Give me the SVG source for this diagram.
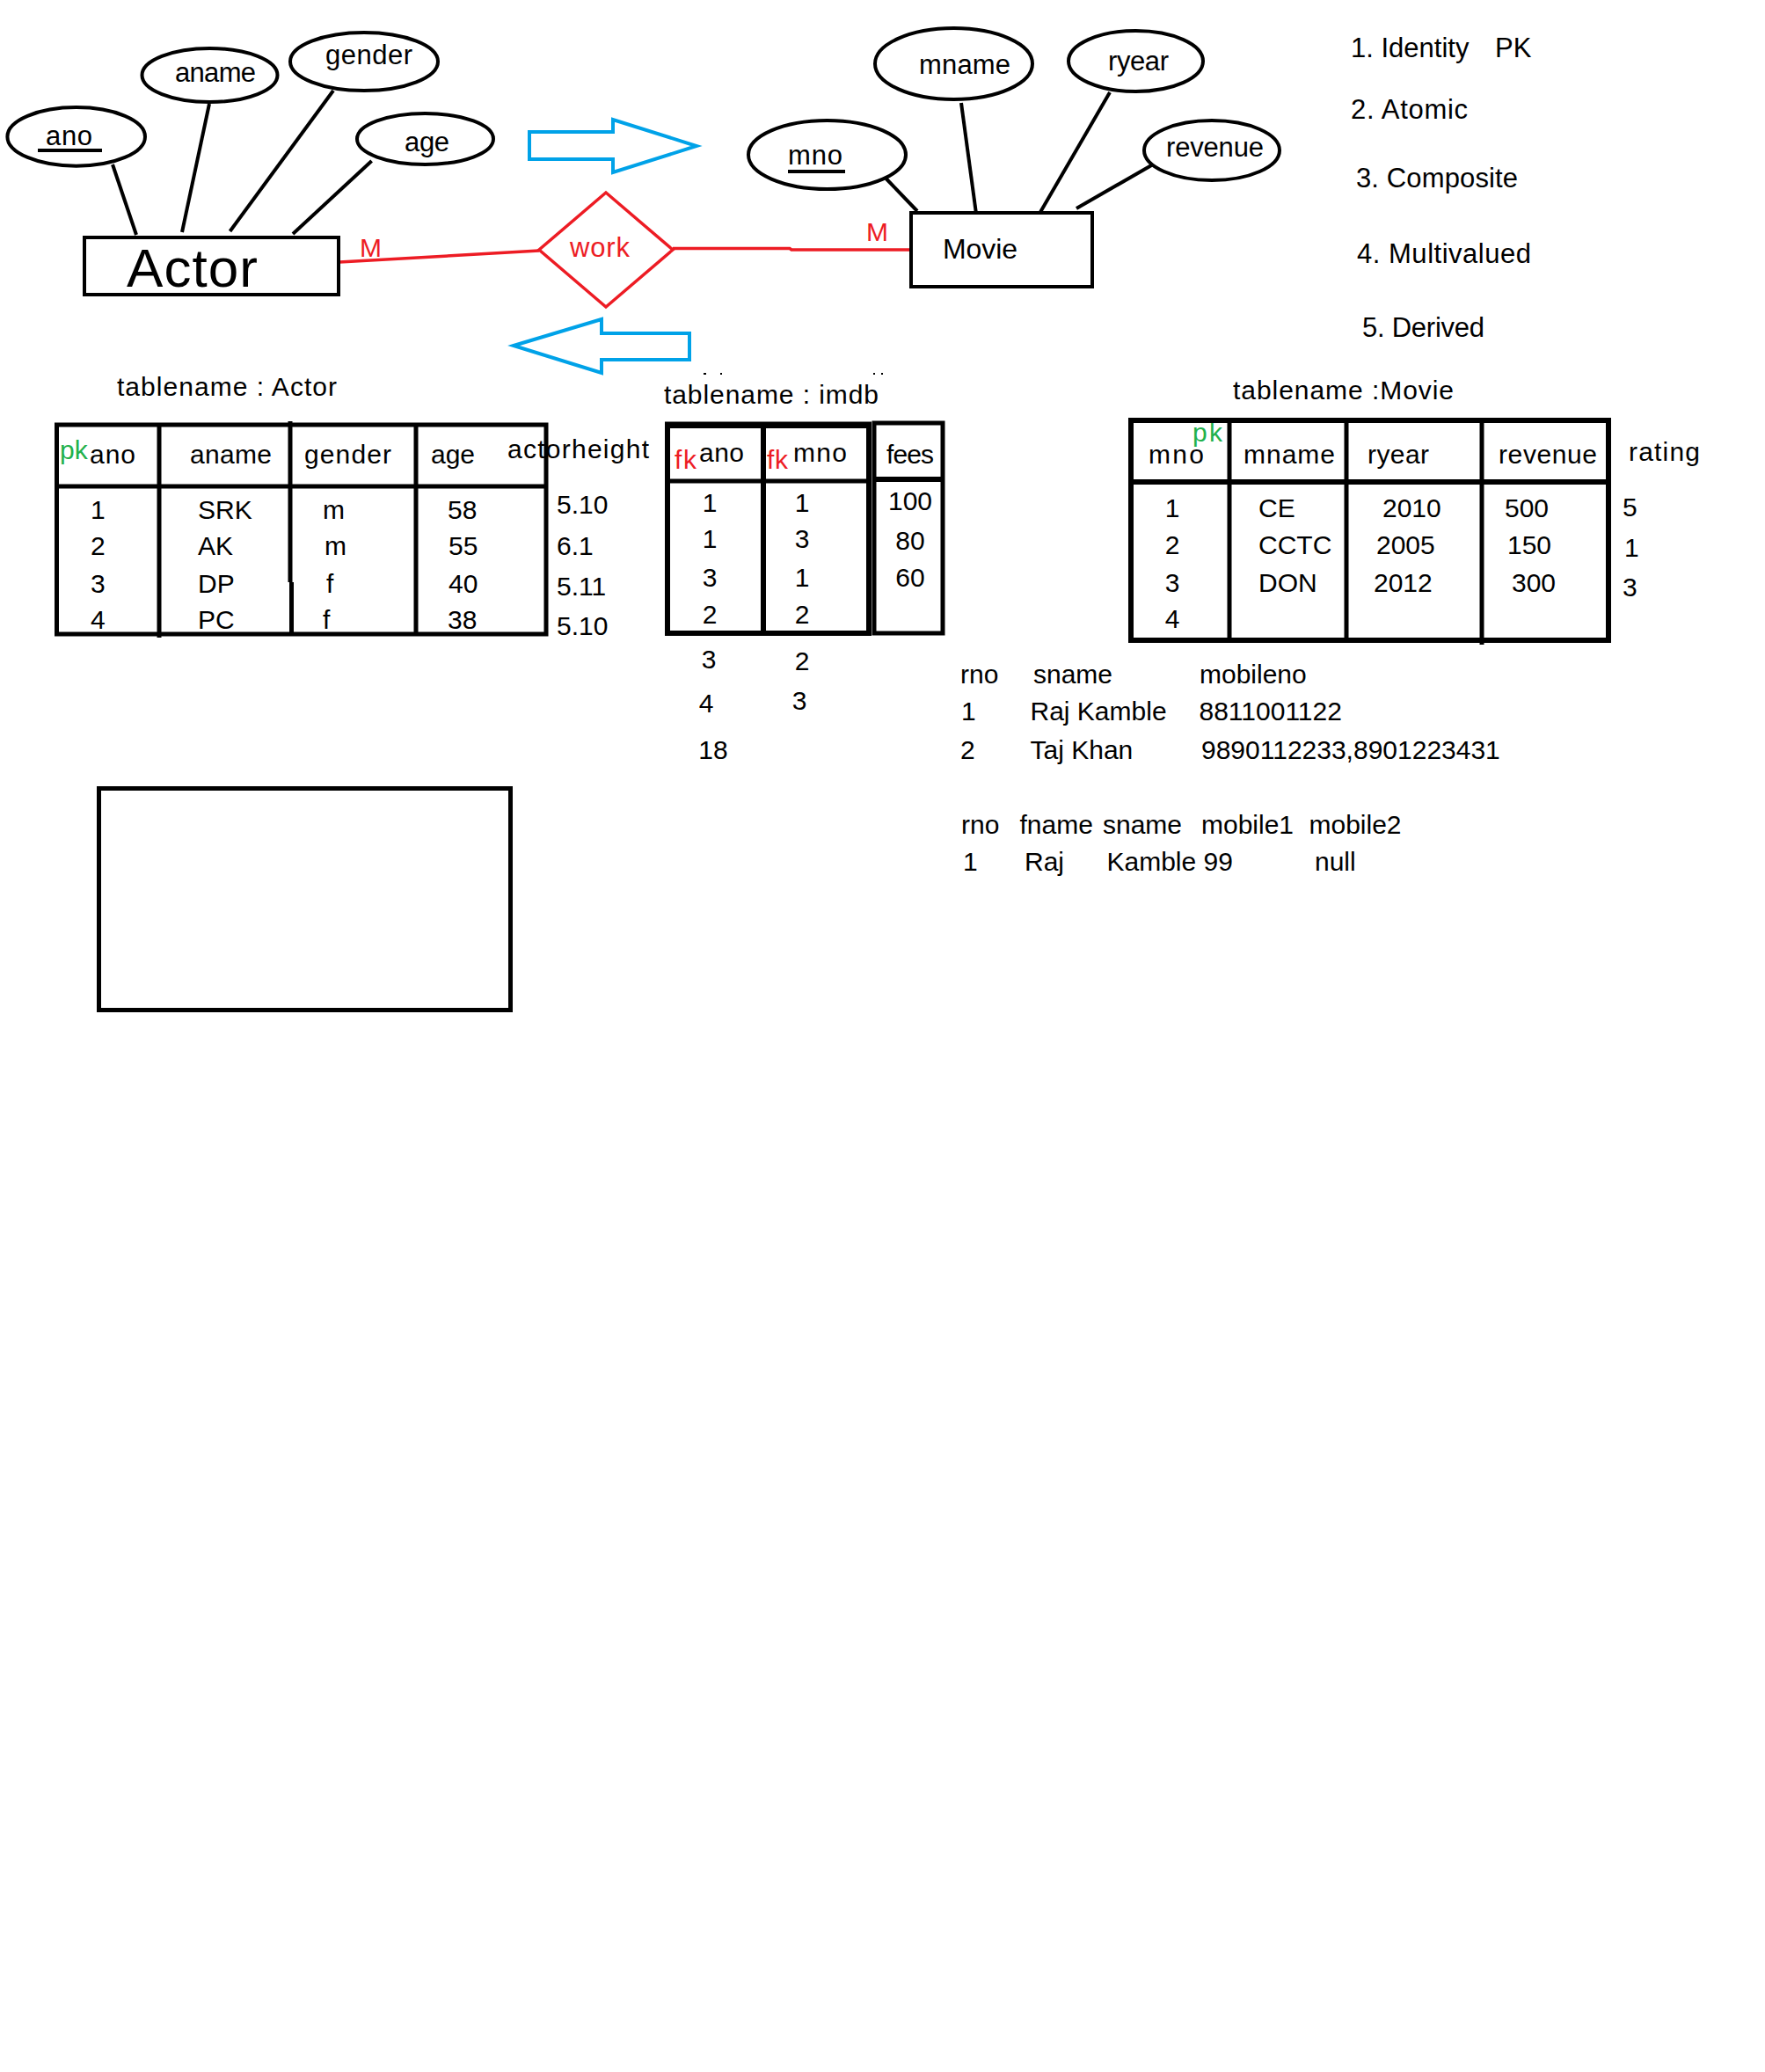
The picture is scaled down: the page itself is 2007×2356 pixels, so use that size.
<svg xmlns="http://www.w3.org/2000/svg" width="2007" height="2356" viewBox="0 0 2007 2356">
<style>
text{font-family:"Liberation Sans",Arial,sans-serif;font-size:30px;fill:#000}
.er{font-size:31px}
.big{font-size:62px}
.sm{font-size:30px}
.mv{font-size:32px}
.red{fill:#ED1C24}
.grn{fill:#22B14C}
.ell{fill:#fff;stroke:#000;stroke-width:4}
.box{fill:none;stroke:#000;stroke-width:4}
.tb{fill:none;stroke:#000;stroke-width:5}
.ln{stroke:#000;stroke-width:4;fill:none}
.rl{stroke:#ED1C24;stroke-width:3.5;fill:none}
.arr{fill:none;stroke:#00A2E8;stroke-width:4;stroke-linejoin:miter}
.mid{text-anchor:middle}
</style>
<rect width="2007" height="2356" fill="#fff"/>

<g id="connectors">
<line class="ln" x1="128" y1="187" x2="155" y2="267"/>
<line class="ln" x1="238" y1="118" x2="207" y2="264"/>
<line class="ln" x1="379" y1="103" x2="261.5" y2="263"/>
<line class="ln" x1="422.6" y1="183" x2="333" y2="266"/>
<line class="ln" x1="1007.5" y1="203" x2="1043" y2="240"/>
<line class="ln" x1="1093" y1="117" x2="1110" y2="243"/>
<line class="ln" x1="1262" y1="105" x2="1182.5" y2="242"/>
<line class="ln" x1="1318" y1="183" x2="1224" y2="237"/>
<line class="rl" x1="386" y1="298" x2="613" y2="285"/>
<polyline class="rl" points="765,282.5 898,282.5 900,284 1034,284"/>
<text class="red sm" x="409" y="292">M</text>
<text class="red sm" x="985" y="274">M</text>
</g>

<g id="attr-ano"><ellipse class="ell" cx="86.7" cy="155.4" rx="78.3" ry="33.3"/><text class="er" x="52" y="165" textLength="53">ano</text><line class="ln" x1="43" y1="171" x2="116" y2="171"/></g>
<g id="attr-aname"><ellipse class="ell" cx="238.5" cy="85.5" rx="77" ry="30.5"/><text class="er" x="199" y="93" textLength="92">aname</text></g>
<g id="attr-gender"><ellipse class="ell" cx="414" cy="70" rx="84" ry="33"/><text class="er" x="370" y="73" textLength="99">gender</text></g>
<g id="attr-age"><ellipse class="ell" cx="483.5" cy="158" rx="77.5" ry="29"/><text class="er" x="460" y="172" textLength="51">age</text></g>
<g id="entity-actor"><rect class="box" x="96" y="270" width="289" height="65"/><text class="big" x="144" y="326" textLength="149">Actor</text></g>
<g id="rel-work"><polygon points="689,219 765,284 689,349 613,284" fill="#fff" stroke="#ED1C24" stroke-width="3.5"/><text class="er red" x="648" y="292" textLength="68">work</text></g>

<g id="attr-mno"><ellipse class="ell" cx="940.5" cy="176" rx="89.5" ry="39"/><text class="er" x="896" y="187" textLength="62">mno</text><line class="ln" x1="896" y1="195" x2="961" y2="195"/></g>
<g id="attr-mname"><ellipse class="ell" cx="1084.5" cy="72.5" rx="89.5" ry="40.5"/><text class="er" x="1045" y="84" textLength="104">mname</text></g>
<g id="attr-ryear"><ellipse class="ell" cx="1291.5" cy="69.5" rx="76.5" ry="34.5"/><text class="er" x="1260" y="80" textLength="69">ryear</text></g>
<g id="attr-revenue"><ellipse class="ell" cx="1378" cy="171" rx="77" ry="34"/><text class="er" x="1326" y="178" textLength="111">revenue</text></g>
<g id="entity-movie"><rect class="box" x="1036" y="242" width="206" height="84"/><text class="mv" x="1072" y="294" textLength="85">Movie</text></g>

<g id="arrow-right"><path class="arr" d="M602 150 L697 150 L697 136 L792 166 L697 196 L697 181 L602 181 Z"/></g>
<g id="arrow-left"><path class="arr" d="M584 393 L684 363 L684 379 L784 379 L784 409 L684 409 L684 424 Z"/></g>

<g id="legend">
<text class="er" x="1536" y="65">1. Identity<tspan x="1700">PK</tspan></text>
<text class="er" x="1536" y="135" textLength="133">2. Atomic</text>
<text class="er" x="1542" y="213" textLength="184">3. Composite</text>
<text class="er" x="1543" y="299" textLength="198">4. Multivalued</text>
<text class="er" x="1549" y="383" textLength="139">5. Derived</text>
</g>

<g id="table-actor">
<text x="133" y="450" textLength="250">tablename : Actor</text>
<text class="grn sm" x="68" y="522">pk</text>
<text x="102" y="527" textLength="52">ano</text>
<text x="216" y="527" textLength="93">aname</text>
<text x="346" y="527" textLength="99">gender</text>
<text x="490" y="527" textLength="50">age</text>
<text x="577" y="521" textLength="161">actorheight</text>
<text x="103" y="590">1</text><text x="103" y="631">2</text><text x="103" y="674">3</text><text x="103" y="715">4</text>
<text x="225" y="590">SRK</text><text x="225" y="631">AK</text><text x="225" y="674">DP</text><text x="225" y="715">PC</text>
<text x="367" y="590">m</text><text x="369" y="631">m</text><text x="371" y="674">f</text><text x="367" y="715">f</text>
<text x="509" y="590">58</text><text x="510" y="631">55</text><text x="510" y="674">40</text><text x="509" y="715">38</text>
<text x="633" y="584">5.10</text><text x="633" y="631">6.1</text><text x="633" y="677">5.11</text><text x="633" y="722">5.10</text>
<rect class="tb" x="64.5" y="483" width="556.5" height="238"/>
<line class="tb" x1="64.5" y1="553" x2="621" y2="553"/>
<line class="tb" x1="181" y1="483" x2="181" y2="725"/>
<line class="tb" x1="330" y1="479" x2="330" y2="662"/>
<line class="tb" x1="331.5" y1="662" x2="331.5" y2="721"/>
<line class="tb" x1="473" y1="481" x2="473" y2="721"/>
</g>

<g id="table-imdb">
<rect x="800" y="424" width="3" height="2" fill="#000"/><rect x="819" y="424" width="2" height="2" fill="#000"/><rect x="993" y="424" width="2" height="2" fill="#000"/><rect x="1002" y="424" width="2" height="2" fill="#000"/>
<text x="755" y="459" textLength="244">tablename : imdb</text>
<text class="red" x="767" y="533" textLength="25">fk</text>
<text x="795" y="525" textLength="51">ano</text>
<text class="red" x="872" y="533" textLength="24">fk</text>
<text x="902" y="525" textLength="61">mno</text>
<text x="1008" y="527" textLength="54">fees</text>
<text class="mid" x="807" y="582">1</text><text class="mid" x="807" y="623">1</text><text class="mid" x="807" y="667">3</text><text class="mid" x="807" y="709">2</text>
<text class="mid" x="912" y="582">1</text><text class="mid" x="912" y="623">3</text><text class="mid" x="912" y="667">1</text><text class="mid" x="912" y="709">2</text>
<text class="mid" x="1035" y="580">100</text><text class="mid" x="1035" y="625">80</text><text class="mid" x="1035" y="667">60</text>
<text class="mid" x="806" y="760">3</text><text class="mid" x="912" y="762">2</text>
<text class="mid" x="803" y="810">4</text><text class="mid" x="909" y="807">3</text>
<text class="mid" x="811" y="863">18</text>
<rect x="759" y="484" width="229" height="236" fill="none" stroke="#000" stroke-width="6"/>
<line x1="756" y1="483" x2="991" y2="483" stroke="#000" stroke-width="7"/>
<line x1="868" y1="484" x2="868" y2="723" stroke="#000" stroke-width="6"/>
<line class="tb" x1="759" y1="547" x2="988" y2="547"/>
<rect x="994" y="481" width="78" height="239" fill="none" stroke="#000" stroke-width="5"/>
<line x1="994" y1="545" x2="1072" y2="545" stroke="#000" stroke-width="6"/>
</g>

<g id="table-movie">
<text x="1402" y="454" textLength="251">tablename :Movie</text>
<text x="1306" y="527" textLength="63">mno</text>
<text class="grn" x="1356" y="502" textLength="34">pk</text>
<text x="1414" y="527" textLength="104">mname</text>
<text x="1555" y="527" textLength="70">ryear</text>
<text x="1704" y="527" textLength="112">revenue</text>
<text x="1852" y="524" textLength="81">rating</text>
<text class="mid" x="1333" y="588">1</text><text class="mid" x="1333" y="630">2</text><text class="mid" x="1333" y="673">3</text><text class="mid" x="1333" y="714">4</text>
<text x="1431" y="588">CE</text><text x="1431" y="630">CCTC</text><text x="1431" y="673">DON</text>
<text x="1572" y="588">2010</text><text x="1565" y="630">2005</text><text x="1562" y="673">2012</text>
<text x="1711" y="588">500</text><text x="1714" y="630">150</text><text x="1719" y="673">300</text>
<text x="1845" y="587">5</text><text x="1847" y="633">1</text><text x="1845" y="678">3</text>
<rect x="1286" y="478" width="543" height="250" fill="none" stroke="#000" stroke-width="6"/>
<line x1="1286" y1="548" x2="1829" y2="548" stroke="#000" stroke-width="6"/>
<line class="tb" x1="1398" y1="478" x2="1398" y2="731"/>
<line class="tb" x1="1531" y1="478" x2="1531" y2="728"/>
<line class="tb" x1="1685" y1="478" x2="1685" y2="733"/>
</g>

<g id="notes">
<text y="777"><tspan x="1092">rno</tspan><tspan x="1175">sname</tspan><tspan x="1364">mobileno</tspan></text>
<text y="819"><tspan x="1093">1</tspan><tspan x="1171.5">Raj Kamble</tspan><tspan x="1363.5">8811001122</tspan></text>
<text y="863"><tspan x="1092">2</tspan><tspan x="1171.5">Taj Khan</tspan><tspan x="1366">9890112233,8901223431</tspan></text>
<text y="948"><tspan x="1093">rno</tspan><tspan x="1159.5">fname</tspan><tspan x="1254">sname</tspan><tspan x="1366">mobile1</tspan><tspan x="1488.5">mobile2</tspan></text>
<text y="990"><tspan x="1095">1</tspan><tspan x="1165">Raj</tspan><tspan x="1258.5">Kamble 99</tspan><tspan x="1495">null</tspan></text>
</g>

<g id="empty-box"><rect x="112.5" y="896.5" width="468" height="252" fill="none" stroke="#000" stroke-width="5"/></g>
</svg>
